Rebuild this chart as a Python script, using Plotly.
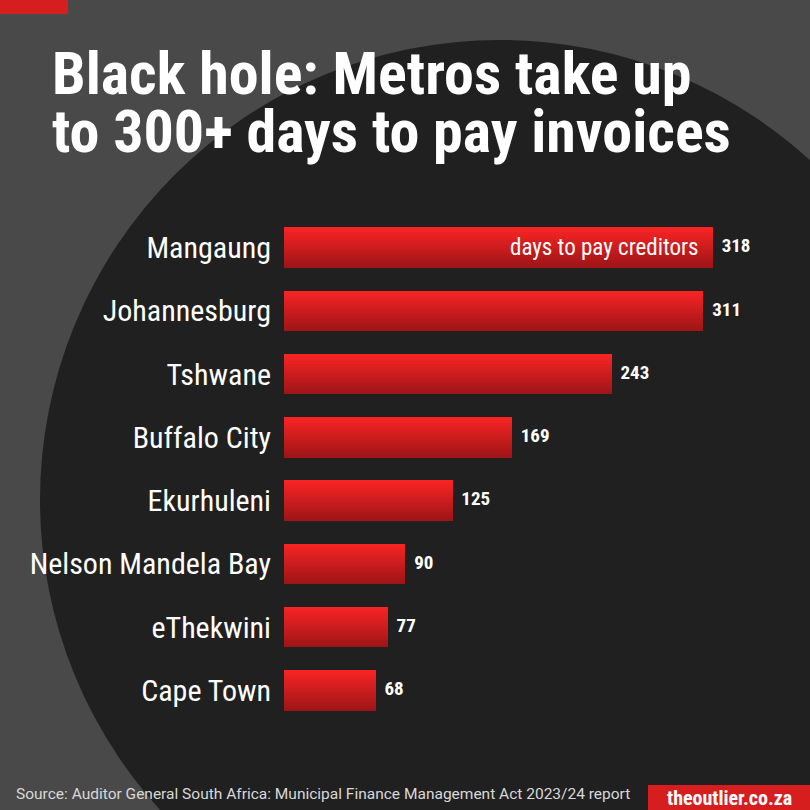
import plotly.graph_objects as go

cities = ["Mangaung", "Johannesburg", "Tshwane", "Buffalo City", "Ekurhuleni",
          "Nelson Mandela Bay", "eThekwini", "Cape Town"]
days = [318, 311, 243, 169, 125, 90, 77, 68]
title_lines = ["Black hole: Metros take up", "to 300+ days to pay invoices"]

FONT = "Roboto Condensed, Liberation Sans Narrow, Roboto, sans-serif"
fig = go.Figure()

# gradient bands (top light -> bottom dark)
top = (248, 36, 36)
bot = (160, 22, 24)
n = 16
W = 0.64
for i in range(n):
    t = i / (n - 1)
    c = tuple(int(bot[k] + (top[k] - bot[k]) * t) for k in range(3))
    h = W * (n - i) / n
    fig.add_trace(go.Bar(
        y=cities, x=days, orientation="h", width=h, offset=-W/2,
        marker=dict(color="rgb(%d,%d,%d)" % c, line=dict(width=0)), hoverinfo="skip",
        showlegend=False))

fig.add_trace(go.Scatter(
    y=cities, x=days, mode="text", text=["  " + str(d) for d in days],
    textposition="middle right",
    textfont=dict(family=FONT, size=19, color="white", weight="bold"),
    showlegend=False, hoverinfo="skip", cliponaxis=False))

anns = [
    dict(xref="paper", yref="paper", x=50/810, y=1-(36+58*i)/810, xanchor="left", yanchor="top",
         align="left", showarrow=False, text="<b>%s</b>" % line,
         font=dict(family=FONT, size=60, color="white"))
    for i, line in enumerate(title_lines)
]
anns += [
    dict(x=318, y="Mangaung", xanchor="right", xshift=-12, showarrow=False,
         text="days to pay creditors", font=dict(family=FONT, size=23, color="white")),
    dict(xref="paper", yref="paper", x=14/810, y=16/810, xanchor="left", yanchor="middle",
         showarrow=False,
         text="Source: Auditor General South Africa: Municipal Finance Management Act 2023/24 report",
         font=dict(family="Roboto, sans-serif", size=15.5, color="#d8d8d8")),
    dict(xref="paper", yref="paper", x=729/810, y=12/810, xanchor="center", yanchor="middle",
         showarrow=False, text="<b>theoutlier.co.za</b>",
         font=dict(family=FONT, size=20, color="white")),
]

fig.update_layout(
    width=810, height=810, margin=dict(l=0, r=0, t=0, b=0),
    paper_bgcolor="#494949", plot_bgcolor="rgba(0,0,0,0)",
    barmode="overlay", bargap=0,
    xaxis=dict(domain=[284/810, 1], range=[0, 390], visible=False, fixedrange=True),
    yaxis=dict(domain=[1-722/810, 1-216/810], autorange="reversed", fixedrange=True,
               showgrid=False, zeroline=False, ticks="", ticklabelstandoff=12,
               tickfont=dict(family=FONT, size=30, color="white")),
    shapes=[
        dict(type="circle", xref="paper", yref="paper", layer="below",
             x0=(500-460)/810, x1=(500+460)/810, y0=1-(500+460)/810, y1=1-(500-460)/810,
             fillcolor="#202020", line=dict(width=0)),
        dict(type="rect", xref="paper", yref="paper", x0=0, x1=68/810, y0=1-14/810, y1=1,
             fillcolor="#d71e1e", line=dict(width=0)),
        dict(type="rect", xref="paper", yref="paper", x0=648/810, x1=1, y0=0, y1=25/810,
             fillcolor="#d71e1e", line=dict(width=0)),
    ],
    annotations=anns,
)
fig.write_html("out.html", config={"displayModeBar": False},
               post_script="document.body.style.margin='0';document.body.style.overflow='hidden';")
